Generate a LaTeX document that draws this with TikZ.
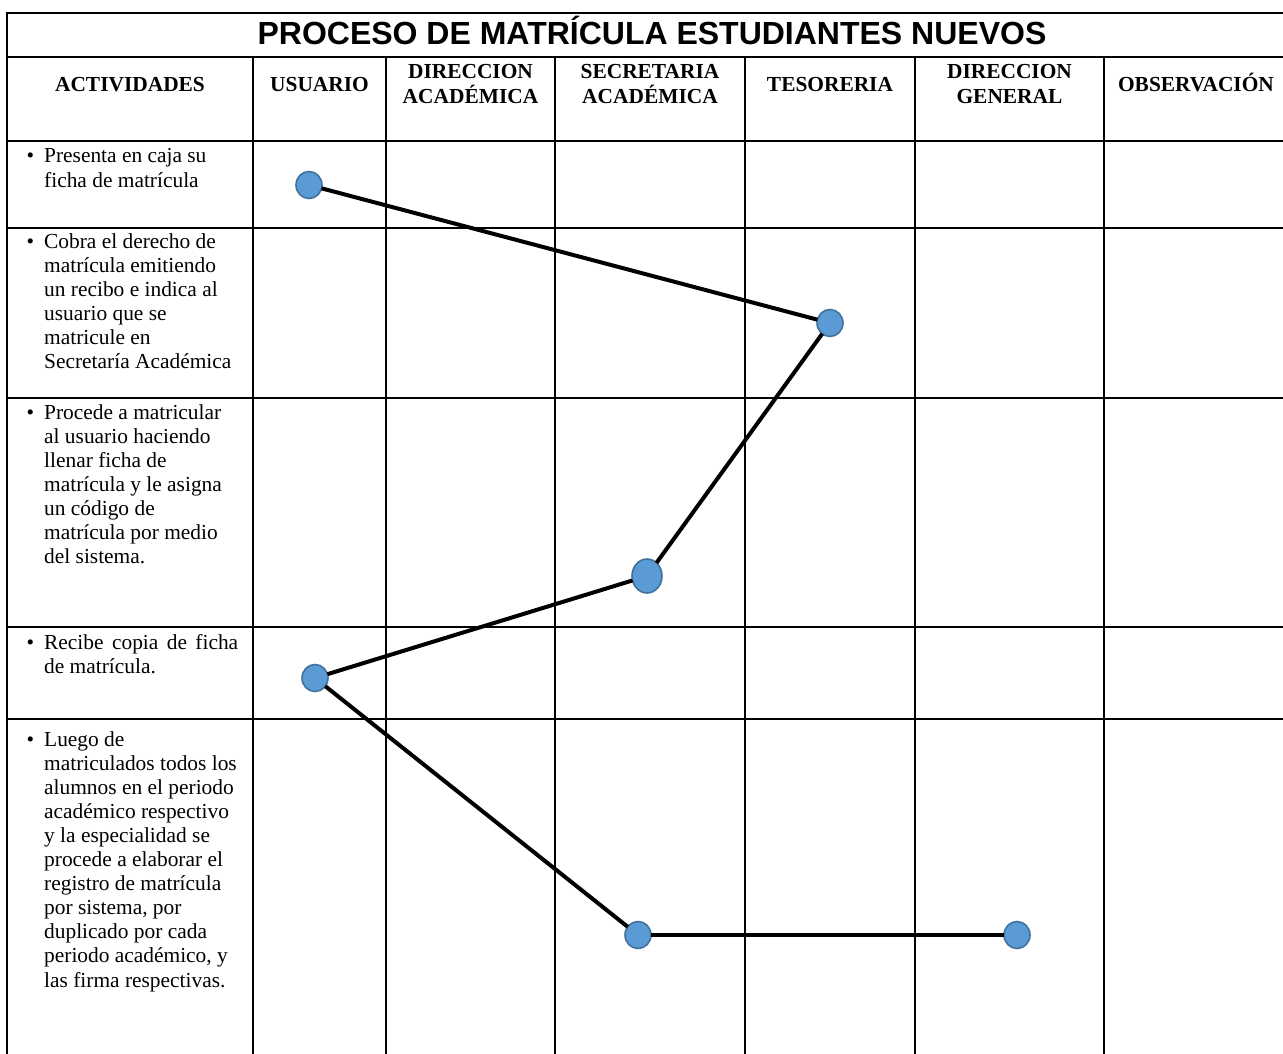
\documentclass[tikz,border=0pt]{standalone}
\usepackage{fontspec}
\setmainfont{Liberation Serif}
\newfontfamily\titlefont{Liberation Sans}
\usetikzlibrary{shapes.geometric}
\definecolor{dotfill}{HTML}{5B9BD5}
\definecolor{dotedge}{HTML}{41719C}
\newcommand{\bul}{\leavevmode\llap{\textbullet\hspace{10pt}}}
\begin{document}
\begin{tikzpicture}[x=1pt,y=-1pt,
  grid/.style={line width=2pt},
  dot/.style={ellipse, fill=dotfill, draw=dotedge, line width=1.6pt,
    minimum width=26pt, minimum height=27pt, inner sep=0pt, outer sep=0pt},
  bigdot/.style={dot, minimum width=30pt, minimum height=34pt},
  link/.style={line width=4pt},
  hdr/.style={font=\fontsize{21.4}{25}\selectfont\bfseries, anchor=base, inner sep=0pt},
  act/.style={font=\fontsize{21.4}{24.1}\selectfont, anchor=base west, inner sep=0pt},
  ttl/.style={font=\titlefont\bfseries\fontsize{32}{36}\selectfont, anchor=base, inner sep=0pt}
  ]
\useasboundingbox (0,0) rectangle (1283,1054);
% grid
\draw[line width=2.5pt] (7,13) -- (1295,13);
\foreach \yy in {57,141,228,398,627,719}
  \draw[grid] (7,\yy) -- (1295,\yy);
\draw[grid] (7,12) -- (7,1060);
\foreach \xx in {253,386,555,745,915,1104}
  \draw[grid] (\xx,57) -- (\xx,1060);
% title
\node[ttl] (title) at (652,45) {PROCESO DE MATRÍCULA ESTUDIANTES NUEVOS};
% headers
\node[hdr] (hact) at (130,92) {ACTIVIDADES};
\node[hdr] (husu) at (319.5,92) {USUARIO};
\node[hdr] (hdac) at (470.5,79) {\parbox[t]{160pt}{\centering DIRECCION\\ACADÉMICA}};
\node[hdr] (hsec) at (650,79) {\parbox[t]{180pt}{\centering SECRETARIA\\ACADÉMICA}};
\node[hdr] (htes) at (830,92) {TESORERIA};
\node[hdr] (hdge) at (1009.5,79) {\parbox[t]{180pt}{\centering DIRECCION\\GENERAL}};
\node[hdr] (hobs) at (1196,92) {OBSERVACIÓN};
% activities
\node[act] (a1) at (44,163) {\parbox[t]{230pt}{\raggedright\bul Presenta en caja su\\ficha de matrícula}};
\node[act] (a2) at (44,248) {\parbox[t]{230pt}{\raggedright\bul Cobra el derecho de\\matrícula emitiendo\\un recibo e indica al\\usuario que se\\matricule en\\Secretaría Académica}};
\node[act] (a3) at (44,419) {\parbox[t]{230pt}{\raggedright\bul Procede a matricular\\al usuario haciendo\\llenar ficha de\\matrícula y le asigna\\un código de\\matrícula por medio\\del sistema.}};
\node[act] (a4) at (44,649) {\parbox[t]{230pt}{\raggedright\bul\makebox[194pt][s]{Recibe copia de ficha}\\de matrícula.}};
\node[act] (a5) at (44,746) {\parbox[t]{230pt}{\raggedright\bul Luego de\\matriculados todos los\\alumnos en el periodo\\académico respectivo\\y la especialidad se\\procede a elaborar el\\registro de matrícula\\por sistema, por\\duplicado por cada\\periodo académico, y\\las firma respectivas.}};
% dots
\node[dot] (c1) at (309,185) {};
\node[dot] (c2) at (830,323) {};
\node[bigdot] (c3) at (647,576) {};
\node[dot] (c4) at (315,678) {};
\node[dot] (c5) at (638,935) {};
\node[dot] (c6) at (1017,935) {};
% connectors
\draw[link] (c1) -- (c2);
\draw[link] (c2) -- (c3);
\draw[link] (c3) -- (c4);
\draw[link] (c4) -- (c5);
\draw[link] (c5) -- (c6);
\end{tikzpicture}
\end{document}
